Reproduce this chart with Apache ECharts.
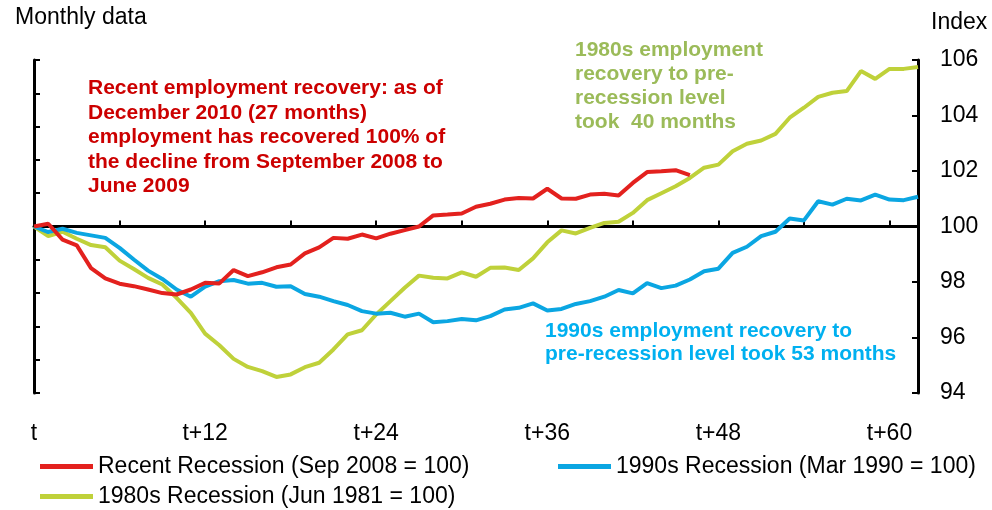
<!DOCTYPE html>
<html>
<head>
<meta charset="utf-8">
<script src="https://cdn.jsdelivr.net/npm/echarts@6/dist/echarts.min.js"></script>
<style>
  html, body { margin: 0; padding: 0; background: #fff; }
  #chart { width: 992px; height: 510px; }
</style>
</head>
<body>
<div id="chart"></div>
<script>
// months after the start of each recession (t = 0 .. 62)
var months = []
for (var i = 0; i <= 62; i++) {
  months.push(i === 0 ? 't' : 't+' + i)
}

// employment index, start month = 100
var recent = [100, 100.1, 99.53, 99.32, 98.5, 98.13, 97.94, 97.85, 97.73, 97.6, 97.55, 97.73, 97.97, 97.95, 98.43, 98.21,
  98.35, 98.53, 98.63, 99.03, 99.25, 99.59, 99.56, 99.71, 99.57, 99.74, 99.87, 100.0, 100.4, 100.43, 100.47, 100.71,
  100.82, 100.97, 101.03, 101.01, 101.36, 101.01, 101.0, 101.15, 101.18, 101.12, 101.57, 101.96, 101.99, 102.03, 101.85]
var r1990 = [100, 99.8, 99.92, 99.77, 99.68, 99.59, 99.23, 98.81, 98.41, 98.11, 97.73, 97.47, 97.83, 98.03, 98.07, 97.94,
  97.97, 97.83, 97.85, 97.57, 97.47, 97.31, 97.17, 96.95, 96.86, 96.89, 96.75, 96.86, 96.55, 96.59, 96.67, 96.62,
  96.77, 97.01, 97.07, 97.23, 96.97, 97.03, 97.21, 97.31, 97.47, 97.71, 97.59, 97.96, 97.78, 97.87, 98.09, 98.39,
  98.48, 99.05, 99.27, 99.65, 99.81, 100.29, 100.22, 100.91, 100.79, 101.0, 100.94, 101.15, 100.97, 100.95, 101.07]
var r1980 = [100, 99.65, 99.81, 99.56, 99.33, 99.25, 98.77, 98.47, 98.15, 97.91, 97.43, 96.89, 96.14, 95.72, 95.23, 94.94,
  94.79, 94.58, 94.67, 94.93, 95.09, 95.57, 96.11, 96.26, 96.83, 97.31, 97.79, 98.23, 98.15, 98.13, 98.35, 98.19,
  98.51, 98.52, 98.43, 98.85, 99.43, 99.86, 99.75, 99.95, 100.13, 100.17, 100.49, 100.95, 101.2, 101.45, 101.75, 102.12,
  102.23, 102.71, 102.98, 103.1, 103.34, 103.92, 104.28, 104.67, 104.82, 104.88, 105.6, 105.32, 105.68, 105.68, 105.75]

var seriesNames = ['Recent Recession (Sep 2008 = 100)', '1990s Recession (Mar 1990 = 100)', '1980s Recession (Jun 1981 = 100)']
var colors = ['#E3211E', '#0BA6E2', '#BFD13A']

var font = '"Liberation Sans", Arial, sans-serif'
var chart = echarts.init(document.getElementById('chart'))

// one legend per entry so each can be placed like the original
function legendItem(name, left, top) {
  return {
    data: [name],
    left: left,
    top: top,
    padding: 0,
    icon: 'rect',
    itemWidth: 53,
    itemHeight: 5,
    textStyle: { fontSize: 23, color: '#000' }
  }
}

var option = {
  animation: false,
  textStyle: { fontFamily: font },
  color: colors,
  grid: { left: 34, right: 74, top: 60, bottom: 117 },
  legend: [
    legendItem(seriesNames[0], 40, 455),
    legendItem(seriesNames[1], 558, 455),
    legendItem(seriesNames[2], 40, 485)
  ],
  xAxis: {
    type: 'category',
    data: months,
    boundaryGap: false,
    axisLine: { lineStyle: { color: '#000', width: 3 } },
    axisTick: {
      inside: true,
      length: 6,
      interval: function(i) { return i % 6 === 0 },
      lineStyle: { color: '#000', width: 2 }
    },
    axisLabel: {
      interval: function(i) { return i % 12 === 0 },
      margin: 29,
      fontSize: 23,
      color: '#000'
    },
    splitLine: { show: false }
  },
  yAxis: [
    {
      // left axis: ticks only
      type: 'value',
      min: -5,
      max: 5,
      interval: 1,
      axisLine: { show: true, lineStyle: { color: '#000', width: 3 } },
      axisTick: { show: true, inside: true, length: 6, lineStyle: { color: '#000', width: 2 } },
      axisLabel: { show: false },
      splitLine: { show: false }
    },
    {
      type: 'value',
      position: 'right',
      min: 94,
      max: 106,
      interval: 2,
      axisLine: { show: true, lineStyle: { color: '#000', width: 3 } },
      axisTick: { show: true, inside: true, length: 6, lineStyle: { color: '#000', width: 2 } },
      axisLabel: { margin: 22, fontSize: 23, color: '#000' },
      splitLine: { show: false }
    }
  ],
  series: [
    {
      name: seriesNames[0],
      type: 'line',
      yAxisIndex: 1,
      data: recent,
      showSymbol: false,
      lineStyle: { width: 4 },
      z: 4,
      markLine: {
        silent: true,
        symbol: 'none',
        label: { show: false },
        lineStyle: { color: '#000', width: 3, type: 'solid' },
        data: [{ yAxis: 100 }],
        z: 1
      }
    },
    {
      name: seriesNames[1],
      type: 'line',
      yAxisIndex: 1,
      data: r1990,
      showSymbol: false,
      lineStyle: { width: 4 },
      z: 3
    },
    {
      name: seriesNames[2],
      type: 'line',
      yAxisIndex: 1,
      data: r1980,
      showSymbol: false,
      lineStyle: { width: 4 },
      z: 2
    }
  ],
  graphic: [
    {
      type: 'text',
      left: 15,
      top: 6,
      style: { text: 'Monthly data', font: '23px ' + font, fill: '#000' }
    },
    {
      type: 'text',
      left: 931,
      top: 11,
      style: { text: 'Index', font: '23px ' + font, fill: '#000' }
    },
    {
      type: 'text',
      x: 88,
      y: 76,
      style: {
        text: 'Recent employment recovery: as of\nDecember 2010 (27 months)\nemployment has recovered 100% of\nthe decline from September 2008 to\nJune 2009',
        font: 'bold 21px ' + font,
        lineHeight: 24.5,
        fill: '#CC0000',
        verticalAlign: 'top'
      }
    },
    {
      type: 'text',
      x: 575,
      y: 38,
      style: {
        text: '1980s employment\nrecovery to pre-\nrecession level\ntook  40 months',
        font: 'bold 21px ' + font,
        lineHeight: 24,
        fill: '#9BBB59',
        verticalAlign: 'top'
      }
    },
    {
      type: 'text',
      x: 545,
      y: 319,
      style: {
        text: '1990s employment recovery to\npre-recession level took 53 months',
        font: 'bold 21px ' + font,
        lineHeight: 23.5,
        fill: '#00B0F0',
        verticalAlign: 'top'
      }
    }
  ]
}

chart.setOption(option)
</script>
</body>
</html>
